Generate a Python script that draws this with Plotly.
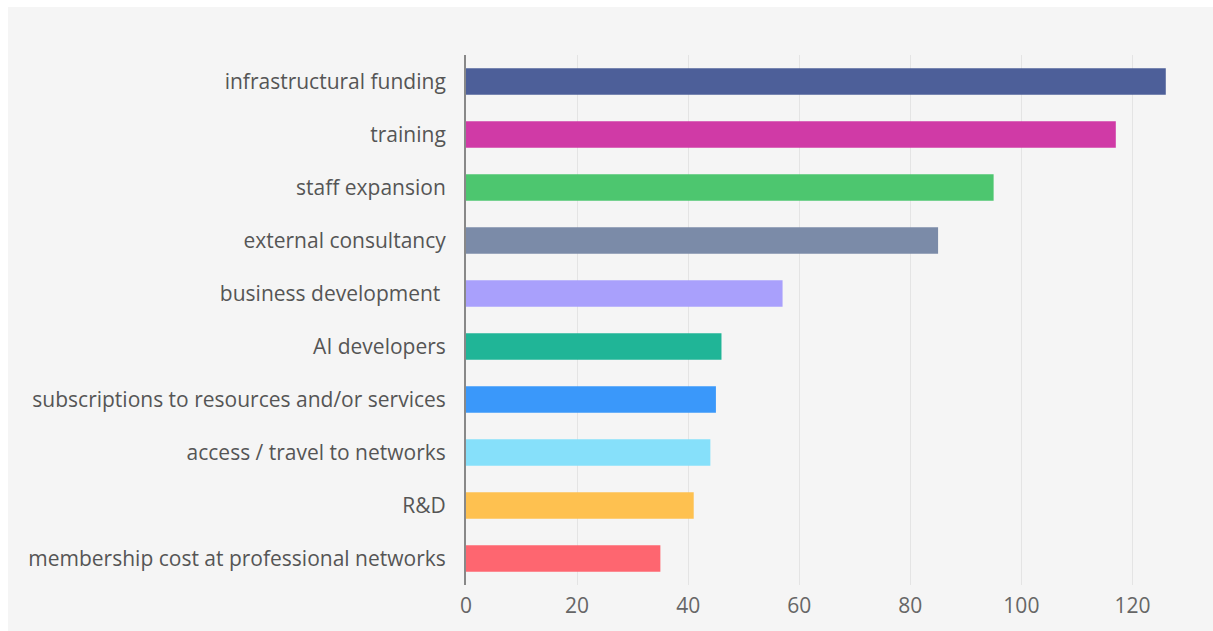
import plotly.graph_objects as go

# Funding areas and number of responses, listed top to bottom
categories = [
    "infrastructural funding",
    "training",
    "staff expansion",
    "external consultancy",
    "business development\u00a0",
    "AI developers",
    "subscriptions to resources and/or services",
    "access / travel to networks",
    "R&D",
    "membership cost at professional networks",
]
values = [126, 117, 95, 85, 57, 46, 45, 44, 41, 35]
bar_colors = [
    "#4d5f99", "#d03aa6", "#4dc66f", "#7b8ba8", "#a9a0fc",
    "#20b597", "#3a98fa", "#86e0fa", "#fec150", "#fe6670",
]
x_ticks = [0, 20, 40, 60, 80, 100, 120]

# the grey card sits 8px from the left and 7px from the top of the page
OFF_X, OFF_Y = 8, 7
W, H = 1213 - OFF_X, 631 - OFF_Y
L, R, T, B = 466 - OFF_X, 25, 55 - OFF_Y, 40
CARD = "#f5f5f5"

fig = go.Figure(
    go.Bar(
        x=values,
        y=categories,
        orientation="h",
        width=0.5,
        marker=dict(color=bar_colors, line=dict(width=0)),
        hoverinfo="x+y",
    )
)

fig.update_layout(
    width=W, height=H,
    margin=dict(l=L, r=R, t=T, b=B, pad=0),
    paper_bgcolor=CARD,
    plot_bgcolor=CARD,
    font=dict(family="Open Sans", size=21, color="#555555"),
    showlegend=False,
    bargap=0.5,
)
fig.update_xaxes(
    range=[0, 130],
    tickvals=x_ticks,
    showgrid=True, gridcolor="#e4e4e4", gridwidth=1,
    zeroline=False, showline=False,
    tickfont=dict(size=21, color="#666666"),
    ticks="", ticklabelstandoff=6,
    fixedrange=True,
)
fig.update_yaxes(
    autorange="reversed",
    showline=True, linecolor="#888888", linewidth=2,
    showgrid=False, zeroline=False,
    ticks="", ticklabelstandoff=14,
    tickfont=dict(size=21, color="#555555"),
    fixedrange=True,
)

# page: grey card background, white strips along the top and left edges
post = (
    f"document.documentElement.style.background='{CARD}';"
    "var s=document.body.style;"
    f"s.margin='0';s.background='{CARD}';s.overflow='hidden';"
    "var d=document.getElementById('{plot_id}');"
    f"d.style.marginLeft='{OFF_X}px';d.style.paddingTop='{OFF_Y}px';"
    "function strip(css){var e=document.createElement('div');"
    "e.style.cssText='position:fixed;background:#ffffff;z-index:10;'+css;"
    "document.body.appendChild(e);}"
    f"strip('left:0;top:0;width:100%;height:{OFF_Y}px;');"
    f"strip('left:0;top:0;width:{OFF_X}px;height:100%;');"
)

fig.write_html("out.html", config={"displayModeBar": False}, post_script=post)
